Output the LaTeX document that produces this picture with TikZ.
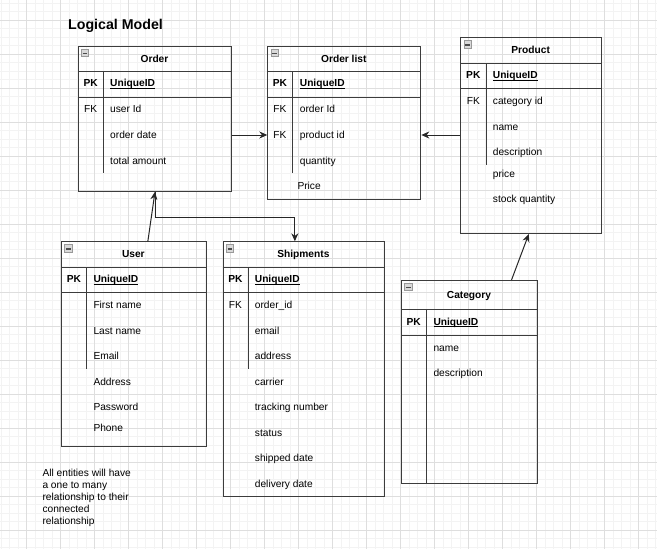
\documentclass[tikz,border=0pt]{standalone}
\usepackage{fontspec}
\setmainfont{Liberation Sans}
\usetikzlibrary{arrows.meta,calc}
\definecolor{edge}{HTML}{3C3C3C}
\definecolor{gmin}{HTML}{F3F3F3}
\definecolor{gmaj}{HTML}{DEDEDE}
\newcommand\erminus[1]{%
  \draw[draw=gray!80, fill=gray!30, line width=0.6pt] ([xshift=3.6pt,yshift=-3.3pt]#1.north west) rectangle ++(7.3,7.3);
  \draw[black!70, line width=1.6pt] ([xshift=5pt,yshift=-7.6pt]#1.north west) -- ++(4.5,0);}
\newcommand\uidtext[1]{\setbox0\hbox{#1}\rlap{\rule[-1.4pt]{\wd0}{0.8pt}}\box0}
\tikzset{
  ent/.style={draw=edge, line width=1pt, rectangle, inner sep=0pt, anchor=north west},
  ln/.style={draw=edge, line width=1pt},
  hdr/.style={font=\fontsize{10.2}{12}\selectfont\bfseries, inner sep=0pt, text height=7.3pt, text depth=0pt},
  fld/.style={anchor=west, inner sep=0pt, text height=7.3pt, text depth=0pt, font=\fontsize{10.2}{12}\selectfont},
  key/.style={fld, anchor=center},
  pkey/.style={key, font=\fontsize{10.2}{12}\selectfont\bfseries},
  uid/.style={fld, font=\fontsize{10.2}{12}\selectfont\bfseries},
  arr/.style={draw=black!85, line width=1pt, -{Stealth[length=8pt,width=7pt]}},
  gmi/.style={draw=gmin, line width=0.8pt},
  gma/.style={draw=gmaj, line width=0.8pt}
}
\begin{document}
\begin{tikzpicture}[x=1pt,y=-1pt]
\useasboundingbox (0,0) rectangle (657,549);
\fill[white] (0,0) rectangle (657,549);
% grid
\foreach \k in {0,...,77} \draw[gmi] ({1.2+8.5*\k},0) -- ({1.2+8.5*\k},549);
\foreach \k in {0,...,64} \draw[gmi] (0,{3.3+8.5*\k}) -- (657,{3.3+8.5*\k});
\foreach \k in {0,...,18} \draw[gma] ({26.7+34*\k},0) -- ({26.7+34*\k},549);
\foreach \k in {0,...,15} \draw[gma] (0,{20.3+34*\k}) -- (657,{20.3+34*\k});

% title
\node[anchor=base west, inner sep=0pt, font=\fontsize{14.2}{17}\selectfont\bfseries] (title) at (68,29.1) {Logical Model};

% ---------- Order ----------
\node[ent, minimum width=153.6pt, minimum height=144.7pt] (order) at (77.7,46) {};
\erminus{order}
\node[hdr] (order-t) at (154.5,58.7) {Order};
\draw[ln] (77.7,71.3) -- (231.3,71.3);
\draw[ln] (77.7,97.3) -- (231.3,97.3);
\draw[ln] (103.7,71.3) -- (103.7,173.3);
\node[pkey] (order-pk) at (90.7,83.3) {PK};
\node[key] (order-fk) at (90.7,109.3) {FK};
\node[uid] (order-id) at (110,83.3) {\uidtext{UniqueID}};
\node[fld] (o-user) at (110,109.3) {user Id};
\node[fld] (o-date) at (110,135) {order date};
\node[fld] (o-total) at (110,160.7) {total amount};

% ---------- Order list ----------
\node[ent, minimum width=153pt, minimum height=153.3pt] (olist) at (267.3,46) {};
\erminus{olist}
\node[hdr] (olist-t) at (343.8,58.7) {Order list};
\draw[ln] (267.3,71.3) -- (420.3,71.3);
\draw[ln] (267.3,97.3) -- (420.3,97.3);
\draw[ln] (292.7,71.3) -- (292.7,173.3);
\node[pkey] (ol-pk) at (280,83.3) {PK};
\node[key] (ol-fk1) at (280,109.3) {FK};
\node[key] (ol-fk2) at (280,135) {FK};
\node[uid] (ol-id) at (299.7,83.3) {\uidtext{UniqueID}};
\node[fld] (ol-oid) at (299.7,109.3) {order Id};
\node[fld] (ol-pid) at (299.7,135) {product id};
\node[fld] (ol-qty) at (299.7,160.7) {quantity};
\node[fld] (ol-price) at (297.3,185.7) {Price};

% ---------- Product ----------
\node[ent, minimum width=140.7pt, minimum height=195.7pt] (prod) at (460.3,37.3) {};
\erminus{prod}
\node[hdr] (prod-t) at (530.65,50.3) {Product};
\draw[ln] (460.3,63.3) -- (601,63.3);
\draw[ln] (460.3,88.7) -- (601,88.7);
\draw[ln] (486.3,63.3) -- (486.3,165);
\node[pkey] (p-pk) at (473.3,75.3) {PK};
\node[key] (p-fk) at (473.3,100.7) {FK};
\node[uid] (p-id) at (492.7,75.3) {\uidtext{UniqueID}};
\node[fld] (p-cat) at (492.7,100.7) {category id};
\node[fld] (p-name) at (492.7,126.7) {name};
\node[fld] (p-desc) at (492.7,151.7) {description};
\node[fld] (p-price) at (492.7,174) {price};
\node[fld] (p-stock) at (492.7,198.7) {stock quantity};

% ---------- User ----------
\node[ent, minimum width=144.7pt, minimum height=204.4pt] (user) at (61,241.3) {};
\erminus{user}
\node[hdr] (user-t) at (133.35,254.3) {User};
\draw[ln] (61,267.3) -- (205.7,267.3);
\draw[ln] (61,292.7) -- (205.7,292.7);
\draw[ln] (86.7,267.3) -- (86.7,369.3);
\node[pkey] (u-pk) at (73.85,279.3) {PK};
\node[uid] (u-id) at (93.3,279.3) {\uidtext{UniqueID}};
\node[fld] (u-first) at (93.3,304.7) {First name};
\node[fld] (u-last) at (93.3,330.7) {Last name};
\node[fld] (u-email) at (93.3,355.7) {Email};
\node[fld] (u-addr) at (93.3,381.7) {Address};
\node[fld] (u-pass) at (93.3,406.7) {Password};
\node[fld] (u-phone) at (93.3,428.3) {Phone};

% ---------- Shipments ----------
\node[ent, minimum width=161.3pt, minimum height=255pt] (ship) at (222.7,241.3) {};
\erminus{ship}
\node[hdr] (ship-t) at (303.35,254.3) {Shipments};
\draw[ln] (222.7,267.3) -- (384,267.3);
\draw[ln] (222.7,292.7) -- (384,292.7);
\draw[ln] (248.3,267.3) -- (248.3,369.3);
\node[pkey] (s-pk) at (235.5,279.3) {PK};
\node[key] (s-fk) at (235.5,304.7) {FK};
\node[uid] (s-id) at (254.7,279.3) {\uidtext{UniqueID}};
\node[fld] (s-oid) at (254.7,304.7) {order\_id};
\node[fld] (s-email) at (254.7,330.7) {email};
\node[fld] (s-addr) at (254.7,355.7) {address};
\node[fld] (s-carrier) at (254.7,381.7) {carrier};
\node[fld] (s-track) at (254.7,406.7) {tracking number};
\node[fld] (s-status) at (254.7,432.7) {status};
\node[fld] (s-shipped) at (254.7,457.7) {shipped date};
\node[fld] (s-deliv) at (254.7,483.7) {delivery date};

% ---------- Category ----------
\node[ent, minimum width=136pt, minimum height=203.3pt] (cat) at (401,280) {};
\erminus{cat}
\node[hdr] (cat-t) at (469,294.65) {Category};
\draw[ln] (401,309.3) -- (537,309.3);
\draw[ln] (401,335.3) -- (537,335.3);
\draw[ln] (426.3,309.3) -- (426.3,483.3);
\node[pkey] (c-pk) at (413.65,321.7) {PK};
\node[uid] (c-id) at (433.3,321.7) {\uidtext{UniqueID}};
\node[fld] (c-name) at (433.3,347.7) {name};
\node[fld] (c-desc) at (433.3,372.7) {description};

% note
\node[anchor=north west, inner sep=0pt, align=left, font=\fontsize{10.2}{12}\selectfont] (note) at (42.3,468.9) {All entities will have\\a one to many\\relationship to their\\connected\\relationship};

% ---------- connectors ----------
\draw[arr] (order.east |- o-date.west) -- (olist.west |- o-date.west);
\draw[arr] (prod.west |- ol-pid.west) -- (olist.east |- ol-pid.west);
\draw[arr] ([xshift=42pt]cat.north) -- ([xshift=-2.35pt]prod.south);
\draw[arr] (order.south) -- ++(0,25.3) -| ([xshift=-9pt]ship.north);
\draw[arr] ([xshift=14pt]user.north) -- (order.south);
\end{tikzpicture}
\end{document}
